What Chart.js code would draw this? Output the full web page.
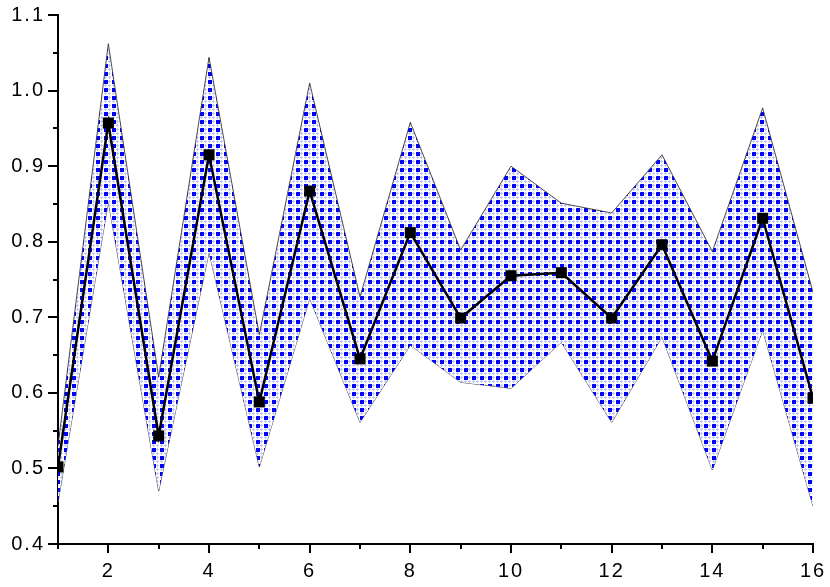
<!DOCTYPE html>
<html>
<head>
<meta charset="utf-8">
<script src="https://cdn.jsdelivr.net/npm/chart.js@4/dist/chart.umd.min.js"></script>
<style>
  html, body { margin: 0; padding: 0; background: #fff; }
  #wrap { width: 830px; height: 587px; }
</style>
</head>
<body>
<div id="wrap"><canvas id="chart" width="830" height="587"></canvas></div>
<script>
// values
const xValues = [1, 2, 3, 4, 5, 6, 7, 8, 9, 10, 11, 12, 13, 14, 15, 16];
const meanValues = [0.502, 0.957, 0.543, 0.915, 0.588, 0.867, 0.645, 0.812, 0.699, 0.755, 0.759, 0.699, 0.796, 0.642, 0.831, 0.593];
const upperValues = [0.53, 1.062, 0.621, 1.044, 0.677, 1.010, 0.727, 0.958, 0.789, 0.900, 0.851, 0.838, 0.915, 0.787, 0.977, 0.733];
const lowerValues = [0.455, 0.853, 0.470, 0.786, 0.502, 0.725, 0.561, 0.663, 0.614, 0.606, 0.667, 0.561, 0.674, 0.498, 0.683, 0.450];
const yTickLabels = ['0.4', '0.5', '0.6', '0.7', '0.8', '0.9', '1.0', '1.1'];

const FONT = { family: '"Liberation Sans", Arial, sans-serif', size: 20 };

// 8x8 tile: solid blue square + light blue hash marks
function makePattern() {
  const c = document.createElement('canvas');
  c.width = 8; c.height = 8;
  const g = c.getContext('2d');
  g.fillStyle = '#fff';
  g.fillRect(0, 0, 8, 8);
  g.fillStyle = '#0000ff';
  g.fillRect(0, 0, 4, 4);
  g.fillStyle = '#c4c4ff';
  [[4, 0], [0, 4], [4, 4]].forEach(([ox, oy]) => {
    g.fillRect(ox + 1, oy, 1, 3);
    g.fillRect(ox, oy + 1, 3, 1);
  });
  return g.createPattern(c, 'repeat');
}

const toPts = (arr) => arr.map((v, i) => ({ x: xValues[i], y: v }));

// the reference labels are set a bit wider than plain Arial
const spacingPlugin = {
  id: 'spacing',
  beforeDraw(chart) {
    chart.ctx.letterSpacing = '2px';
  }
};

// outward major/minor ticks, placed through the scales
const tickPlugin = {
  id: 'ticks',
  afterDraw(chart) {
    const { ctx, chartArea, scales } = chart;
    ctx.save();
    ctx.strokeStyle = '#000';
    ctx.lineWidth = 2;
    ctx.beginPath();
    xValues.forEach((v) => {
      const px = Math.round(scales.x.getPixelForValue(v));
      const len = v % 2 === 0 ? 9 : 5;
      ctx.moveTo(px, chartArea.bottom);
      ctx.lineTo(px, chartArea.bottom + len);
    });
    for (let i = 0; i <= 14; i++) {
      const v = 0.4 + i * 0.05;
      const py = Math.round(scales.y.getPixelForValue(v));
      const len = i % 2 === 0 ? 10 : 5;
      ctx.moveTo(chartArea.left, py);
      ctx.lineTo(chartArea.left - len, py);
    }
    ctx.stroke();
    ctx.restore();
  }
};

function fixPad(s) {
  s.paddingLeft = 0;
  s.paddingRight = 0;
  s.paddingTop = 0;
  s.paddingBottom = 0;
}

new Chart(document.getElementById('chart'), {
  type: 'line',
  data: {
    datasets: [
      {
        label: 'mean',
        data: toPts(meanValues),
        borderColor: '#000',
        borderWidth: 2.5,
        backgroundColor: '#000',
        pointStyle: 'rect',
        pointRadius: 7.8,
        pointBorderWidth: 0,
        fill: false,
        tension: 0
      },
      {
        label: 'upper',
        data: toPts(upperValues),
        borderColor: '#222',
        borderWidth: 0.8,
        backgroundColor: makePattern(),
        pointRadius: 0,
        fill: '+1',
        tension: 0
      },
      {
        label: 'lower',
        data: toPts(lowerValues),
        borderColor: '#222',
        borderWidth: 0.8,
        pointRadius: 0,
        fill: false,
        tension: 0
      }
    ]
  },
  options: {
    responsive: false,
    animation: false,
    layout: { padding: { top: 15, right: 17, left: 0, bottom: 0 } },
    plugins: { legend: { display: false }, tooltip: { enabled: false } },
    scales: {
      x: {
        type: 'linear',
        min: 1,
        max: 16,
        grid: { display: false, drawTicks: false },
        border: { display: true, color: '#000', width: 2 },
        ticks: {
          stepSize: 1,
          autoSkip: false,
          maxRotation: 0,
          padding: 15,
          color: '#000',
          font: FONT,
          callback: (v) => (v % 2 === 0 ? String(v) : '')
        },
        afterFit: (s) => { s.height = 43; fixPad(s); }
      },
      y: {
        min: 0.4,
        max: 1.1,
        grid: { display: false, drawTicks: false },
        border: { display: true, color: '#000', width: 2 },
        ticks: {
          stepSize: 0.1,
          padding: 13,
          color: '#000',
          font: FONT,
          callback: (v) => {
            const i = Math.round((v - 0.4) / 0.1);
            return yTickLabels[i] ?? '';
          }
        },
        afterFit: (s) => { s.width = 58; fixPad(s); }
      }
    }
  },
  plugins: [spacingPlugin, tickPlugin]
});
</script>
</body>
</html>
